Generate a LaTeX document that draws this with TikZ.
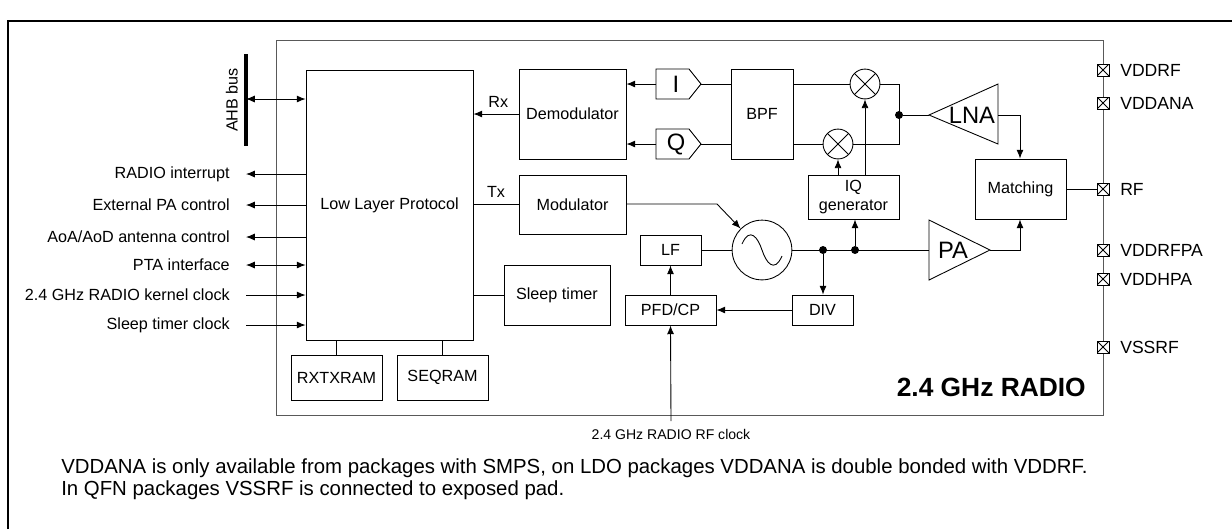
\documentclass[tikz,border=0pt]{standalone}
\usepackage{fontspec}
\setmainfont{Liberation Sans}
\usetikzlibrary{arrows.meta,fit,calc}

\tikzset{
  blk/.style={draw, inner sep=0pt, fit={#1}},
  arr/.style={-{Latex[length=5pt,width=4pt]}},
  darr/.style={{Latex[length=5pt,width=4pt]}-{Latex[length=5pt,width=4pt]}},
  lbl/.style={font=\fontsize{9.2}{11}\selectfont},
  big/.style={font=\fontsize{13.5}{15}\selectfont},
  dot/.style={circle, fill, inner sep=1.6pt},
  xmark/.style={path picture={\draw (path picture bounding box.south west) -- (path picture bounding box.north east)
      (path picture bounding box.north west) -- (path picture bounding box.south east);}},
  padbox/.style={draw, fill=white, minimum size=6.8pt, inner sep=0pt, xmark},
  mixer/.style={draw, circle, minimum size=17pt, inner sep=0pt, xmark},
}

\begin{document}
\begin{tikzpicture}[x=0.02cm, y=-0.02cm, line width=0.5pt, lbl]
  \useasboundingbox (0,0) rectangle (1232,529);
  %% outer frame
  \draw[line width=1.5pt] (8,529) -- (8,21) -- (1232,21);
  %% radio frame
  \draw[gray!70!black] (276,40) rectangle (1103,415);
  \node[anchor=east, font=\fontsize{15}{16}\selectfont\bfseries] (radio) at (1092,387) {2.4 GHz RADIO};

  %% blocks
  \node[blk={(306,70)(473,340)}, label={[lbl]center:Low Layer Protocol}] (llp) {};
  \node[blk={(291,355)(382,400)}, label={[lbl]center:RXTXRAM}] (rxtx) {};
  \node[blk={(397,355)(488,400)}, label={[lbl]center:SEQRAM}] (seq) {};
  \node[blk={(519,69)(626,159)}, label={[lbl]center:Demodulator}] (demod) {};
  \node[blk={(519,175)(626,234)}, label={[lbl]center:Modulator}] (mod) {};
  \node[blk={(504,265)(610,325)}, label={[lbl]center:Sleep timer}] (sleep) {};
  \node[blk={(731,69)(793,159)}, label={[lbl]center:BPF}] (bpf) {};
  \node[blk={(808,175)(899,219)}, label={[lbl, align=center]center:IQ\\generator}] (iqgen) {};
  \node[blk={(975,159)(1066,219)}, label={[lbl]center:Matching}] (match) {};
  \node[blk={(640,235)(701,265)}, label={[lbl]center:LF}] (lf) {};
  \node[blk={(625,295)(716,325)}, label={[lbl]center:PFD/CP}] (pfd) {};
  \node[blk={(792,295)(853,325)}, label={[lbl]center:DIV}] (div) {};

  %% I and Q buffers
  \draw (656,69) -- (689,69) -- (701,84) -- (689,99) -- (656,99) -- cycle;
  \node[big] (ibuf) at (676,84) {I};
  \coordinate (iL) at (656,84); \coordinate (iR) at (701,84);
  \draw (656,129) -- (689,129) -- (701,144) -- (689,159) -- (656,159) -- cycle;
  \node[big] (qbuf) at (676,144) {Q};
  \coordinate (qL) at (656,144); \coordinate (qR) at (701,144);

  %% mixers
  \node[mixer] (mixi) at (865,84) {};
  \node[mixer] (mixq) at (838,144) {};

  %% oscillator
  \node[draw, circle, minimum size=34pt] (osc) at (762,250) {};
  \draw (742,244) .. controls (750,226) and (758,238) .. (762,250) .. controls (766,262) and (774,274) .. (782,256);

  %% LNA and PA
  \draw (929,115) -- (998,84) -- (998,144) -- cycle;
  \node[big] (lna) at (972,115) {LNA};
  \coordinate (lnaL) at (929,115); \coordinate (lnaR) at (998,115);
  \draw (929,220) -- (990,250) -- (929,280) -- cycle;
  \node[big] (pa) at (953,250) {PA};
  \coordinate (paL) at (929,250); \coordinate (paR) at (990,250);

  %% receive path
  \draw[arr] (demod.west |- 0,114) -- (llp.east |- 0,114) node[pos=0.45, above] {Rx};
  \draw[arr] (iL) -- (demod.east |- iL);
  \draw[arr] (qL) -- (demod.east |- qL);
  \draw (iR) -- (bpf.west |- iR);
  \draw (qR) -- (bpf.west |- qR);
  \draw (bpf.east |- mixi) -- (mixi.west);
  \draw (bpf.east |- mixq) -- (mixq.west);
  \draw (mixi.east) -- (899,84) -- (899,144) -- (mixq.east);
  \node[dot] (jrx) at (899,115) {};
  \draw (jrx) -- (lnaL);
  \draw[arr] (lnaR) -- (1020,115) -- (match.north -| 1020,0);
  \draw[arr] (iqgen.north -| mixq) -- (mixq.south);
  \draw[arr] (iqgen.north -| mixi) -- (mixi.south);

  %% transmit path
  \draw (llp.east |- 0,204) -- (mod.west |- 0,204) node[pos=0.5, above] {Tx};
  \draw[arr] (mod.east |- 0,204) -- (717,204) -- (osc.north west);
  \draw (lf.east) -- (osc.west);
  \draw (osc.east) -- (paL);
  \node[dot] (jdiv) at (823,250) {};
  \node[dot] (jiq) at (855,250) {};
  \draw[arr] (jdiv) -- (div.north -| jdiv);
  \draw[arr] (jiq) -- (iqgen.south -| jiq);
  \draw[arr] (div.west) -- (pfd.east);
  \draw[arr] (pfd.north) -- (lf.south);
  \draw[arr] (paR) -- (1020,250) -- (match.south -| 1020,0);
  \draw (llp.east |- sleep) -- (sleep.west);
  \coordinate (rfclk) at (671,421);
  \draw[arr] (rfclk) -- (pfd.south);
  \node[font=\fontsize{8}{9}\selectfont] (rfclkl) at (671,434) {2.4 GHz RADIO RF clock};

  %% memories
  \draw (rxtx.north) -- (llp.south -| rxtx.north);
  \draw (seq.north) -- (llp.south -| seq.north);

  %% AHB bus
  \draw[line width=1.8pt] (246,54) -- (246,146);
  \node[rotate=90, anchor=south] (ahb) at (244,100) {AHB bus};
  \draw[darr] (246,99) -- (llp.west |- 0,99);

  %% left signals
  \foreach \yy/\tt in {174/{RADIO interrupt},205/{External PA control},237/{AoA/AoD antenna control},
      265/{PTA interface},295/{2.4 GHz RADIO kernel clock},325/{Sleep timer clock}} {
    \node[anchor=east] (sig\yy) at (236,\yy) {\tt};
  }
  \foreach \yy in {174,205,237} \draw[arr] (llp.west |- 0,\yy) -- (246,\yy);
  \draw[darr] (246,265) -- (llp.west |- 0,265);
  \foreach \yy in {295,325} \draw[arr] (246,\yy) -- (llp.west |- 0,\yy);

  %% pins
  \draw (match.east) -- (1103,189);
  \foreach \yy/\tt in {70/VDDRF,103/VDDANA,189/RF,250/VDDRFPA,279/VDDHPA,347/VSSRF} {
    \node[padbox] (pad\tt) at (1103,\yy) {};
    \node[anchor=west, font=\fontsize{10}{11}\selectfont] (padl\tt) at (1114,\yy) {\tt};
  }

  %% notes
  \node[anchor=west, font=\fontsize{11.6}{13}\selectfont] (note1) at (55,468) {VDDANA is only available from packages with SMPS, on LDO packages VDDANA is double bonded with VDDRF.};
  \node[anchor=west, font=\fontsize{11.6}{13}\selectfont] (note2) at (55,490) {In QFN packages VSSRF is connected to exposed pad.};
\end{tikzpicture}
\end{document}
